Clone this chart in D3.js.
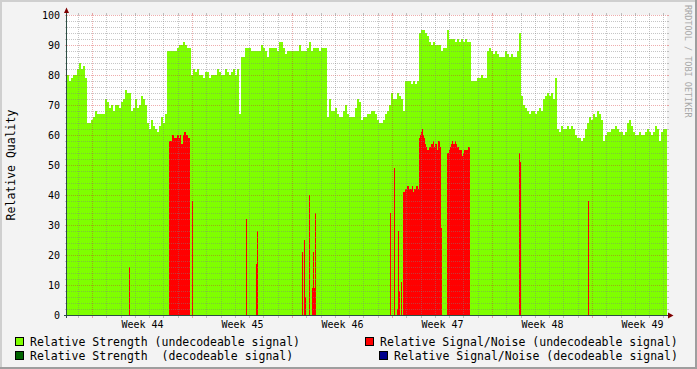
<!DOCTYPE html>
<html><head><meta charset="utf-8">
<script src="https://cdn.jsdelivr.net/npm/d3@7"></script>
<style>html,body{margin:0;padding:0;background:#f3f3f3;} svg{display:block;} text{font-family:"DejaVu Sans Mono",monospace;white-space:pre;}</style>
</head><body><svg id="c" width="697" height="369"></svg>
<script>
// ---------------- data ----------------
const startTime = Date.UTC(2007, 9, 27, 6);   // first sample (UTC)
const spanDays = 42;
const strengthStepHours = 3.36;               // sampling step of strength series
const noiseStepHours = 1.68;                  // sampling step of signal/noise series

// Relative Strength (undecodeable signal)
const strength = [
 80,78,79,80,80,82,84,82,83,79,
 64,64,65,
 66,68,67,67,67,67,
 72,71,69,70,68,70,70,69,
 71,72,75,74,74,68,
 69,72,69,70,73,72,70,
 64,62,65,63,62,61,63,66,64,67,88,
 88,88,88,88,89,90,90,91,90,89,89,
 80,82,81,82,80,80,79,81,81,79,80,80,80,82,81,80,80,82,81,80,81,82,80,82,67,
 86,86,89,
 89,89,88,88,88,88,88,90,89,88,86,89,89,89,89,88,91,91,89,87,
 88,88,88,88,88,88,90,88,88,88,89,91,88,89,89,89,88,89,89,89,
 66,72,68,68,69,67,66,66,68,70,67,66,66,66,69,72,71,65,66,66,
 67,67,68,68,67,65,64,64,65,67,68,70,74,72,72,74,73,72,68,
 78,78,78,77,78,77,78,
 94,95,95,94,93,91,90,91,90,90,90,88,89,89,95,92,92,92,91,92,91,92,91,92,91,91,
 78,78,78,79,79,80,79,79,
 88,89,88,87,88,87,86,86,86,88,87,86,87,86,86,88,94,
 73,70,69,
 68,67,68,68,67,68,69,68,
 72,73,74,73,74,72,79,
 62,61,63,62,62,63,62,63,62,60,59,59,58,59,62,64,66,65,67,66,
 68,67,65,58,60,61,61,62,62,63,62,61,61,60,61,64,65,63,61,60,
 60,61,60,60,61,62,61,60,61,63,62,58,61,62,62
];

// Relative Signal/Noise (undecodeable signal): runs of samples (start sample index, values)
const noiseStart = [62, 102, 125, 179, 189, 235, 237, 242, 245, 323, 327, 330, 334, 336, 352, 380, 452, 521];
const noiseValues = [
 [16],
 [58,58,58,60,60,59,59,59,60,60,59,60,57,57,60,61,61,60,60,59,59],
 [38],
 [32],
 [17,28],
 [21],
 [25,6],
 [40],
 [9,21,9,34],
 [34],
 [49],
 [2,28,8],
 [11],
 [41,41,42,42,43,43,42,42,42,43,41,42,42,43,43,42],
 [59,60,61,62,60,59,57,56,55,55,56,56,57,57,58,56,57,57,55,58,58,56,29],
 [54,54,55,56,57,58,57,57,58,57,56,56,55,55,55,53,54,55,55,55,55,56,56],
 [54,51],
 [38]
];
// decodeable series: no samples in this period
const strengthDecodeable = [];
const noiseDecodeable = [];

const yTicks = [0,10,20,30,40,50,60,70,80,90,100];
const weekLabels = ["Week 44","Week 45","Week 46","Week 47","Week 48","Week 49"];
const legendLabels = [
  "Relative Strength (undecodeable signal)",
  "Relative Signal/Noise (undecodeable signal)",
  "Relative Strength  (decodeable signal)",
  "Relative Signal/Noise (decodeable signal)"
];
const seriesColors = ["#7fff00", "#ff0000", "#006400", "#00008b"];

// ---------------- drawing ----------------
const H = 3600e3;
const t0 = new Date(startTime), t1 = new Date(startTime + spanDays * 24 * H);
const svg = d3.select("#c");
const x = d3.scaleUtc().domain([t0, t1]).range([67, 667]);
const y = d3.scaleLinear().domain([0, 100]).range([315, 15]);

// frame
svg.append("rect").attr("width", 697).attr("height", 369).attr("fill", "#f3f3f3");
svg.append("rect").attr("x",0).attr("y",0).attr("width",697).attr("height",2).attr("fill","#cfcfcf");
svg.append("rect").attr("x",0).attr("y",0).attr("width",2).attr("height",369).attr("fill","#cfcfcf");
svg.append("rect").attr("x",695).attr("y",0).attr("width",2).attr("height",369).attr("fill","#9e9e9e");
svg.append("rect").attr("x",0).attr("y",367).attr("width",697).attr("height",2).attr("fill","#9e9e9e");
// canvas
svg.append("rect").attr("x", x(t0)).attr("y", y(100)).attr("width", x(t1) - x(t0)).attr("height", y(0) - y(100)).attr("fill", "#fff");

function stepSeries(values, stepH) {
  const pts = values.map((v, i) => ({t: new Date(startTime + i * stepH * H), v}));
  pts.push({t: new Date(startTime + values.length * stepH * H), v: values[values.length - 1]});
  return pts;
}
const area = d3.area().x(d => x(d.t)).y0(y(0)).y1(d => y(d.v)).curve(d3.curveStepAfter);

svg.append("path").datum(stepSeries(strength, strengthStepHours))
  .attr("d", area).attr("fill", seriesColors[0]).attr("shape-rendering", "crispEdges");

const nSamples = Math.round(spanDays * 24 / noiseStepHours);
const noise = new Array(nSamples).fill(0);
noiseStart.forEach((s, k) => noiseValues[k].forEach((v, j) => { noise[s + j] = v; }));
svg.append("path").datum(stepSeries(noise, noiseStepHours))
  .attr("d", area).attr("fill", seriesColors[1]).attr("shape-rendering", "crispEdges");

// grid
const g = svg.append("g").attr("shape-rendering", "crispEdges");
const minorCol = "rgba(128,128,128,0.45)", majorCol = "rgba(210,40,40,0.38)";
d3.range(0, 101, 2).forEach(v => {
  const yy = y(v) + 0.5, col = v % 10 === 0 ? majorCol : minorCol;
  if (v > 0) g.append("line").attr("x1", 67).attr("x2", 667).attr("y1", yy).attr("y2", yy)
    .attr("stroke", col).attr("stroke-dasharray", "1,1");
  g.append("line").attr("x1", 65).attr("x2", 67).attr("y1", yy).attr("y2", yy).attr("stroke", col);
  g.append("line").attr("x1", 667).attr("x2", 669).attr("y1", yy).attr("y2", yy).attr("stroke", col);
});
const days = d3.utcDay.range(t0, t1);
days.forEach(d => {
  const major = d.getUTCDay() === 1;
  const xx = Math.round(x(d)) + 0.5, col = major ? majorCol : minorCol;
  g.append("line").attr("x1", xx).attr("x2", xx).attr("y1", 15).attr("y2", 315)
    .attr("stroke", col).attr("stroke-dasharray", "1,1");
  g.append("line").attr("x1", xx).attr("x2", xx).attr("y1", 13).attr("y2", 15).attr("stroke", col);
  g.append("line").attr("x1", xx).attr("x2", xx).attr("y1", 316).attr("y2", 318).attr("stroke", col);
});

// axes lines + arrows
const axisCol = "#2c4d43";
svg.append("line").attr("x1", 64).attr("x2", 671).attr("y1", 315.5).attr("y2", 315.5).attr("stroke", axisCol).attr("shape-rendering","crispEdges");
svg.append("line").attr("x1", 66.5).attr("x2", 66.5).attr("y1", 318).attr("y2", 11).attr("stroke", axisCol).attr("shape-rendering","crispEdges");
svg.append("path").attr("d", "M64,13L69,13L66.5,7.5Z").attr("fill", "#7f0000");
svg.append("path").attr("d", "M668,312.5L668,318.5L673.5,315.5Z").attr("fill", "#7f0000");

// tick labels through d3 axes
const yAxis = d3.axisLeft(y).tickValues(yTicks).tickSize(0).tickPadding(7).tickFormat(d3.format("d"));
const ya = svg.append("g").attr("transform", "translate(67,0)").call(yAxis);
ya.select(".domain").remove();
ya.selectAll("text").attr("font-family", "DejaVu Sans Mono").attr("font-size", 10).attr("fill", "#000");

const weekStarts = d3.utcMonday.range(t0, t1);
const weekCenters = weekStarts.map(d => new Date(+d + 3.5 * 24 * H));
const xAxis = d3.axisBottom(x).tickValues(weekCenters).tickSize(0).tickPadding(6)
  .tickFormat((d, i) => weekLabels[i]);
const xa = svg.append("g").attr("transform", "translate(0,315)").call(xAxis);
xa.select(".domain").remove();
xa.selectAll("text").attr("font-family", "DejaVu Sans Mono").attr("font-size", 10).attr("fill", "#000");

// y title
svg.append("text").attr("transform", "translate(15,165) rotate(-90)").attr("text-anchor", "middle")
  .attr("font-size", 11.5).attr("fill", "#000").text("Relative Quality");

// watermark
svg.append("text").attr("transform", "translate(685,5) rotate(90)").attr("font-size", 8.5)
  .attr("fill", "#a8a8a8").text("RRDTOOL / TOBI OETIKER");

// legend
const legendPos = [[15, 337, 30, 345.5], [365, 337, 380, 345.5], [15, 351, 30, 359.5], [379, 351, 394, 359.5]];
legendLabels.forEach((lab, i) => {
  const p = legendPos[i];
  svg.append("rect").attr("x", p[0] + 0.5).attr("y", p[1] + 0.5).attr("width", 8).attr("height", 8)
    .attr("fill", seriesColors[i]).attr("stroke", "#000").attr("shape-rendering", "crispEdges");
  svg.append("text").attr("x", p[2]).attr("y", p[3]).attr("font-size", 11.5).attr("fill", "#000").text(lab);
});
</script></body></html>
